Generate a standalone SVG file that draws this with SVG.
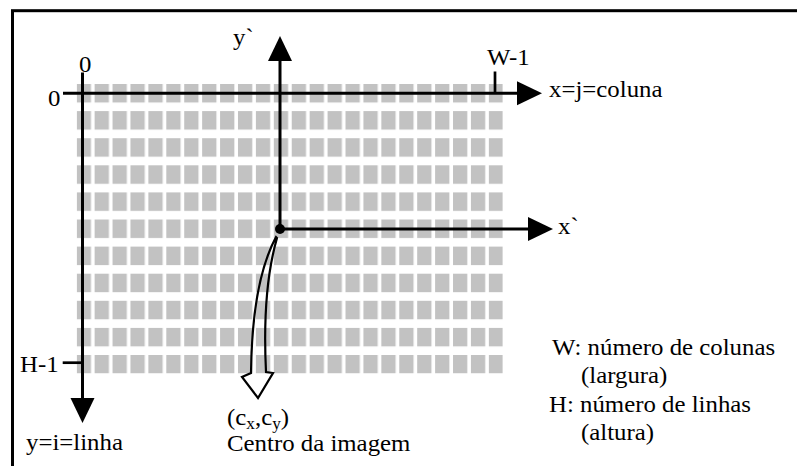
<svg xmlns="http://www.w3.org/2000/svg" width="797" height="466" viewBox="0 0 797 466">
  <style>
    .t { font-family: "Liberation Serif", "Times New Roman", serif; font-size: 23px; fill: #000; }
    .sub { font-size: 16px; }
    .ax { stroke: #000; stroke-width: 3; fill: none; }
    .tick { stroke: #000; stroke-width: 2.7; fill: none; }
  </style>
  <defs>
    <marker id="head" markerUnits="userSpaceOnUse" markerWidth="26" markerHeight="26" refX="13" refY="12" orient="auto" overflow="visible">
      <path d="M0,0 L25,12 L0,24 Z" fill="#000"/>
    </marker>
    <pattern id="cells" patternUnits="userSpaceOnUse" x="76.7" y="84" width="17.92" height="27.1">
      <rect x="0" y="0" width="14.3" height="18.5" fill="#c2c2c2"/>
    </pattern>
  </defs>
  <rect width="797" height="466" fill="#fff"/>
  <g id="frame">
    <rect x="12.5" y="10.7" width="800" height="470" fill="none" stroke="#000" stroke-width="3"/>
  </g>
  <g id="grid">
    <rect x="76.7" y="84" width="426" height="289.5" fill="url(#cells)"/>
  </g>
  <g id="connectors">
    <line class="ax" x1="63" y1="93.3" x2="530" y2="93.3" marker-end="url(#head)"/>
    <line class="ax" x1="82.5" y1="72.5" x2="82.5" y2="411" marker-end="url(#head)"/>
    <line class="ax" x1="280" y1="229" x2="280" y2="48" marker-end="url(#head)"/>
    <line class="ax" x1="280" y1="229" x2="541" y2="229" marker-end="url(#head)"/>
    <line class="tick" x1="495" y1="71.5" x2="495" y2="93"/>
    <line class="tick" x1="62.7" y1="362.7" x2="82" y2="362.7"/>
    <circle cx="280" cy="229" r="5" fill="#000"/>
    <path id="center-pointer" d="M276,237 Q252,282 251,373 L242,377 L258,398 L273,373 L266,372 Q262,290 277,238 Z" fill="none" stroke="#000" stroke-width="2.2" stroke-linejoin="miter"/>
  </g>
  <g id="labels">
    <text class="t" transform="translate(79,72) scale(1.08,1)">0</text>
    <text class="t" transform="translate(48,105.5) scale(1.08,1)">0</text>
    <text class="t" transform="translate(233,44.5) scale(1.08,1)">y`</text>
    <text class="t" transform="translate(487,65) scale(1.08,1)">W-1</text>
    <text class="t" transform="translate(549,97) scale(1.08,1)">x=j=coluna</text>
    <text class="t" transform="translate(558,234) scale(1.08,1)">x`</text>
    <text class="t" transform="translate(20,372) scale(1.08,1)">H-1</text>
    <text class="t" transform="translate(26,450) scale(1.08,1)">y=i=linha</text>
    <text class="t" transform="translate(227,425) scale(1.08,1)">(c<tspan class="sub" dy="4">x</tspan><tspan dy="-4">,c</tspan><tspan class="sub" dy="4">y</tspan><tspan dy="-4">)</tspan></text>
    <text class="t" transform="translate(227,451) scale(1.08,1)">Centro da imagem</text>
  </g>
  <g id="legend">
    <text class="t" transform="translate(552,355) scale(1.08,1)">W: número de colunas</text>
    <text class="t" transform="translate(581,383.3) scale(1.08,1)">(largura)</text>
    <text class="t" transform="translate(549,411.6) scale(1.08,1)">H: número de linhas</text>
    <text class="t" transform="translate(581,440) scale(1.08,1)">(altura)</text>
  </g>
</svg>
